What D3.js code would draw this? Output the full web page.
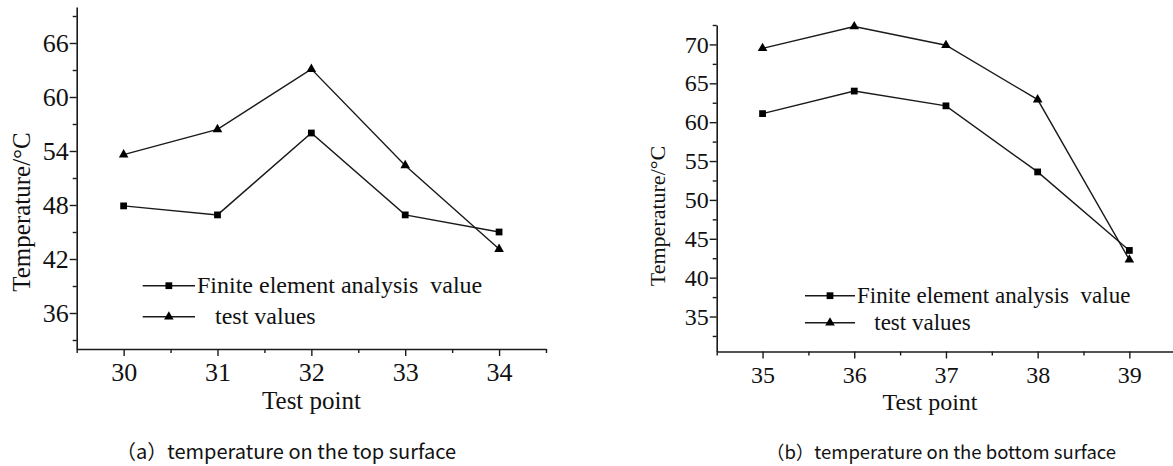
<!DOCTYPE html>
<html>
<head>
<meta charset="utf-8">
<script src="https://cdn.jsdelivr.net/npm/d3@7"></script>
<style>
  html, body { margin: 0; padding: 0; background: #fff; }
  svg { display: block; }
  text { white-space: pre; }
</style>
</head>
<body>
<svg id="chart" width="1173" height="466"></svg>
<script>
// ---- data ----
const leftPoints = [30, 31, 32, 33, 34];
const leftFEA = [47.9, 46.9, 56.0, 46.9, 45.0];
const leftTest = [53.6, 56.4, 63.1, 52.4, 43.1];
const leftYTicks = [36, 42, 48, 54, 60, 66];

const rightPoints = [35, 36, 37, 38, 39];
const rightFEA = [61.1, 64.0, 62.1, 53.6, 43.5];
const rightTest = [69.5, 72.3, 69.9, 62.9, 42.3];
const rightYTicks = [35, 40, 45, 50, 55, 60, 65, 70];

const legendLabels = ["Finite element analysis  value", "   test values"];
const xTitle = "Test point";
const yTitle = "Temperature/°C";
const captions = ["（a）temperature on the top surface", "（b）temperature on the bottom surface"];

const svg = d3.select("#chart");
const serif = "'Liberation Serif','Times New Roman',serif";
const ink = "#1a1a1a";

function panel(cfg) {
  const g = svg.append("g");
  const x = d3.scaleLinear().domain(cfg.xDomain).range(cfg.xRange);
  const y = d3.scaleLinear().domain(cfg.yDomain).range(cfg.yRange);

  // minor ticks
  const xMinor = d3.range(cfg.xDomain[0], cfg.xDomain[1] + 0.01, 0.5).filter(v => Math.abs(v % 1) > 0.1);
  const yMinor = cfg.yMinor;

  g.append("g").attr("transform", `translate(0,${cfg.yRange[0]})`)
    .call(d3.axisBottom(x).tickValues(xMinor).tickSize(4).tickFormat("").tickSizeOuter(0))
    .call(a => a.select(".domain").remove())
    .call(a => a.selectAll("line").attr("stroke", ink).attr("stroke-width", 1.4));
  g.append("g").attr("transform", `translate(${cfg.xRange[0]},0)`)
    .call(d3.axisLeft(y).tickValues(yMinor).tickSize(4).tickFormat("").tickSizeOuter(0))
    .call(a => a.select(".domain").remove())
    .call(a => a.selectAll("line").attr("stroke", ink).attr("stroke-width", 1.4));

  // major axes
  const xa = g.append("g").attr("transform", `translate(0,${cfg.yRange[0]})`)
    .call(d3.axisBottom(x).tickValues(cfg.points).tickSize(7).tickPadding(7).tickSizeOuter(0).tickFormat(d3.format("d")));
  xa.select(".domain").attr("stroke", ink).attr("stroke-width", 1.6);
  xa.selectAll("line").attr("stroke", ink).attr("stroke-width", 1.4);
  xa.selectAll("text").style("font-family", serif).style("font-size", cfg.tickFont + "px").attr("fill", "#111");

  const ya = g.append("g").attr("transform", `translate(${cfg.xRange[0]},0)`)
    .call(d3.axisLeft(y).tickValues(cfg.yTicks).tickSize(7).tickPadding(1).tickSizeOuter(0).tickFormat(d3.format("d")));
  ya.select(".domain").attr("stroke", ink).attr("stroke-width", 1.6);
  ya.selectAll("line").attr("stroke", ink).attr("stroke-width", 1.4);
  ya.selectAll("text").style("font-family", serif).style("font-size", cfg.tickFont + "px").attr("fill", "#111");

  // lines
  const line = d3.line().x(d => x(d[0])).y(d => y(d[1]));
  const series = [
    { vals: cfg.fea, sym: d3.symbolSquare, size: 46 },
    { vals: cfg.test, sym: d3.symbolTriangle, size: 40 }
  ];
  series.forEach(s => {
    const pts = cfg.points.map((p, i) => [p, s.vals[i]]);
    g.append("path").datum(pts).attr("d", line)
      .attr("fill", "none").attr("stroke", ink).attr("stroke-width", 1.4);
    g.selectAll(null).data(pts).enter().append("path")
      .attr("d", d3.symbol().type(s.sym).size(s.size))
      .attr("transform", d => `translate(${x(d[0])},${y(d[1])})`)
      .attr("fill", "#000");
  });

  // legend
  series.forEach((s, i) => {
    const ly = cfg.legY[i];
    g.append("line").attr("x1", cfg.legX[0]).attr("x2", cfg.legX[1])
      .attr("y1", ly).attr("y2", ly).attr("stroke", ink).attr("stroke-width", 1.4);
    g.append("path").attr("d", d3.symbol().type(s.sym).size(s.size))
      .attr("transform", `translate(${(cfg.legX[0] + cfg.legX[1]) / 2},${ly})`).attr("fill", "#000");
    g.append("text").attr("x", cfg.legX[1] + 2).attr("y", ly + cfg.legFont * 0.32)
      .attr("font-family", serif).attr("font-size", cfg.legFont).attr("fill", "#111")
      .text(legendLabels[i]);
  });

  // axis titles
  g.append("text").attr("x", cfg.xTitlePos[0]).attr("y", cfg.xTitlePos[1])
    .attr("text-anchor", "middle").attr("font-family", serif).attr("font-size", cfg.titleFont)
    .attr("fill", "#111").text(xTitle);
  g.append("text")
    .attr("transform", `translate(${cfg.yTitlePos[0]},${cfg.yTitlePos[1]}) rotate(-90)`)
    .attr("text-anchor", "middle").attr("dominant-baseline", "central")
    .attr("font-family", serif).attr("font-size", cfg.yTitleFont).attr("fill", "#111").text(yTitle);

  // caption
  g.append("text").attr("x", cfg.capPos[0]).attr("y", cfg.capPos[1])
    .attr("text-anchor", "middle").attr("font-family", "'Noto Sans CJK JP','Noto Sans',sans-serif")
    .attr("font-size", cfg.capFont).attr("fill", "#111").text(cfg.caption);
}

panel({
  points: leftPoints, fea: leftFEA, test: leftTest, yTicks: leftYTicks,
  yMinor: [33, 39, 45, 51, 57, 63, 69],
  xDomain: [29.5, 34.5], xRange: [76.7, 546],
  yDomain: [32, 70], yRange: [349, 7],
  tickFont: 26, legFont: 24, titleFont: 25, yTitleFont: 25,
  legX: [142.7, 195], legY: [285.7, 316.7],
  xTitlePos: [311.5, 409], yTitlePos: [21, 212],
  capPos: [286, 459], capFont: 20, caption: captions[0]
});

panel({
  points: rightPoints, fea: rightFEA, test: rightTest, yTicks: rightYTicks,
  yMinor: [32.5, 37.5, 42.5, 47.5, 52.5, 57.5, 62.5, 67.5, 72.5],
  xDomain: [34.5, 39.5], xRange: [716.7, 1175.2],
  yDomain: [30.5, 72.5], yRange: [351.5, 25],
  tickFont: 24, legFont: 23, titleFont: 24, yTitleFont: 22,
  legX: [805, 855], legY: [295.7, 322.7],
  xTitlePos: [930, 410], yTitlePos: [657, 216],
  capPos: [941, 459], capFont: 18.5, caption: captions[1]
});
</script>
</body>
</html>
